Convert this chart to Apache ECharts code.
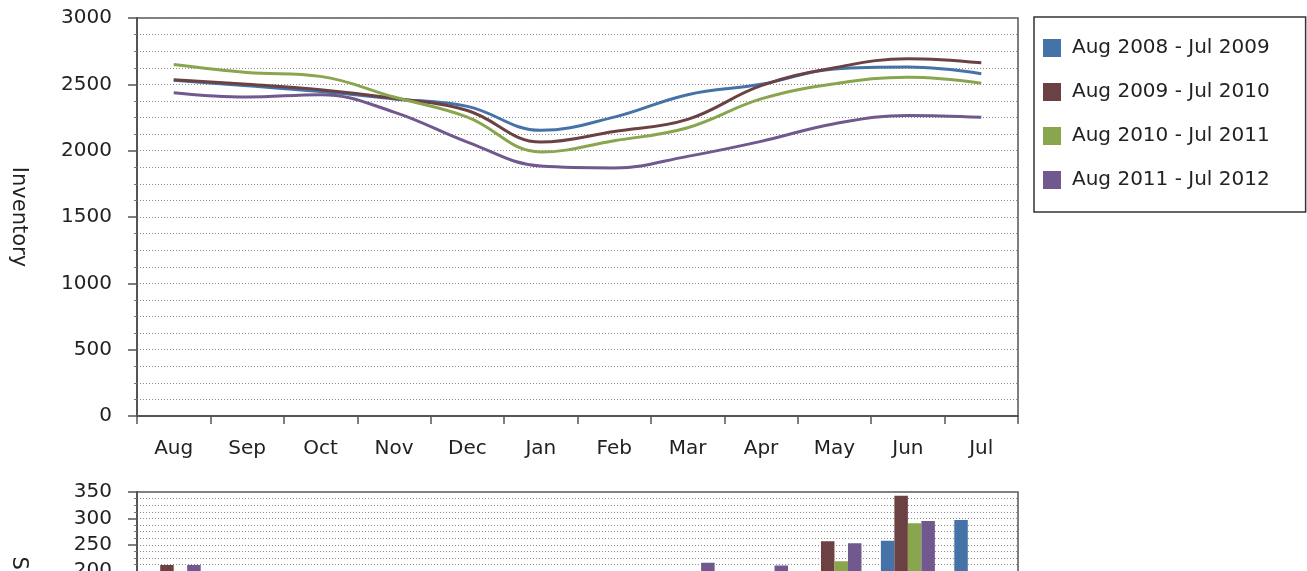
<!DOCTYPE html>
<html>
<head>
<meta charset="utf-8">
<script src="https://cdn.jsdelivr.net/npm/echarts@6/dist/echarts.min.js"></script>
<style>
html,body{margin:0;padding:0;background:#fff;overflow:hidden;}
#chart{width:1307px;height:720px;}
</style>
</head>
<body>
<div id="chart"></div>
<script>
const months = ['Aug','Sep','Oct','Nov','Dec','Jan','Feb','Mar','Apr','May','Jun','Jul'];
const seriesNames = ['Aug 2008 - Jul 2009','Aug 2009 - Jul 2010','Aug 2010 - Jul 2011','Aug 2011 - Jul 2012'];
const colors = ['#4572A7','#6B4143','#89A54E','#71588F'];

// Inventory (top chart)
const inv2008 = [2530, 2490, 2445, 2390, 2334, 2153, 2253, 2422, 2500, 2615, 2630, 2580];
const inv2009 = [2535, 2500, 2460, 2395, 2303, 2065, 2145, 2236, 2490, 2625, 2693, 2662];
const inv2010 = [2650, 2590, 2560, 2404, 2253, 1990, 2075, 2173, 2390, 2504, 2554, 2509];
const inv2011 = [2437, 2404, 2422, 2291, 2065, 1884, 1870, 1957, 2070, 2203, 2266, 2251];

// Sales (bottom chart)
const sales2008 = [196, 175, 150, 120, 130, 100, 130, 180, 195, 190, 258, 297];
const sales2009 = [212, 168, 160, 130, 140, 110, 140, 190, 198, 257, 343, 190];
const sales2010 = [188, 160, 155, 125, 135, 105, 135, 185, 190, 219, 291, 180];
const sales2011 = [212, 185, 170, 140, 150, 120, 160, 216, 211, 253, 295, 198];

const invData = [inv2008, inv2009, inv2010, inv2011];
const salesData = [sales2008, sales2009, sales2010, sales2011];

const font = 'DejaVu Sans, Verdana, sans-serif';
const dotted = {color:'#8a8a8a', width:1, type:[1,2]};

const chart = echarts.init(document.getElementById('chart'), null, {renderer:'canvas'});
const series = [];
seriesNames.forEach((n,i)=>{
  series.push({
    name:n, type:'line', xAxisIndex:0, yAxisIndex:0, data:invData[i],
    smooth:0.4, showSymbol:false, symbol:'none',
    lineStyle:{width:3, color:colors[i]}, itemStyle:{color:colors[i]}, z:3
  });
});
seriesNames.forEach((n,i)=>{
  series.push({
    name:n, type:'bar', xAxisIndex:1, yAxisIndex:1, data:salesData[i],
    barWidth:13.5, barGap:'0%',
    itemStyle:{color:colors[i]}
  });
});

const plain = v => String(v);

chart.setOption({
  animation:false,
  color:colors,
  textStyle:{fontFamily:font},
  legend:{
    orient:'vertical', left:1034, top:17,
    data:seriesNames,
    itemWidth:18, itemHeight:18, itemGap:24,
    padding:[21,36,22,9],
    borderColor:'#333', borderWidth:1.5,
    icon:'rect',
    textStyle:{fontSize:20, color:'#222', fontFamily:font, padding:[0,0,0,6]}
  },
  grid:[
    {left:134, top:18, width:884, height:398, show:true, borderColor:'#555', borderWidth:1.5, backgroundColor:'transparent'},
    {left:134, top:492, width:884, height:192.5, show:true, borderColor:'#555', borderWidth:1.5, backgroundColor:'transparent'}
  ],
  xAxis:[
    {type:'category', gridIndex:0, data:months, boundaryGap:true,
     axisLine:{lineStyle:{color:'#555', width:2}},
     axisTick:{show:true, length:8, lineStyle:{color:'#555', width:1.5}},
     axisLabel:{fontSize:20, color:'#222', margin:23, fontFamily:font},
     splitLine:{show:false}},
    {type:'category', gridIndex:1, data:months, boundaryGap:true,
     axisLine:{lineStyle:{color:'#555', width:2}},
     axisTick:{show:true, length:8},
     axisLabel:{fontSize:20, color:'#222', margin:23},
     splitLine:{show:false}}
  ],
  yAxis:[
    {type:'value', gridIndex:0, min:0, max:3000, interval:500,
     name:'Inventory', nameLocation:'middle', nameGap:108, nameRotate:-90,
     nameTextStyle:{fontSize:21, color:'#222', fontFamily:font},
     axisLine:{show:true, lineStyle:{color:'#555', width:2}},
     axisTick:{show:true, length:9, lineStyle:{color:'#555', width:1.5}},
     minorTick:{show:true, splitNumber:4, length:3, lineStyle:{color:'#777'}},
     axisLabel:{fontSize:20, color:'#222', margin:25, fontFamily:font, formatter:plain},
     splitLine:{show:true, lineStyle:dotted},
     minorSplitLine:{show:true, lineStyle:dotted}},
    {type:'value', gridIndex:1, min:0, max:350, interval:50,
     name:'Sales', nameLocation:'middle', nameGap:108, nameRotate:-90,
     nameTextStyle:{fontSize:21, color:'#222', fontFamily:font},
     axisLine:{show:true, lineStyle:{color:'#555', width:2}},
     axisTick:{show:true, length:9, lineStyle:{color:'#555', width:1.5}},
     minorTick:{show:true, splitNumber:4, length:3, lineStyle:{color:'#777'}},
     axisLabel:{fontSize:20, color:'#222', margin:25, fontFamily:font, formatter:plain},
     splitLine:{show:true, lineStyle:dotted},
     minorSplitLine:{show:true, lineStyle:dotted}}
  ],
  series:series
});
</script>
</body>
</html>
